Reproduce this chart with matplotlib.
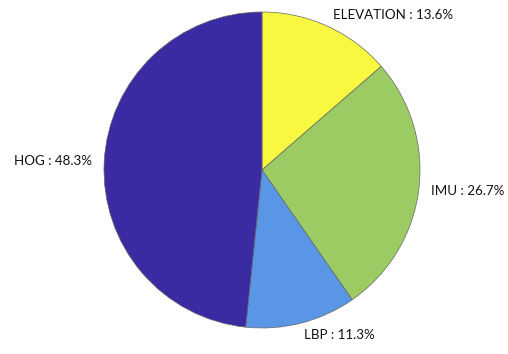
import numpy as np
import matplotlib.pyplot as plt

# Feature share, clockwise from 12 o'clock
features = ["ELEVATION", "IMU", "LBP", "HOG"]
shares = [13.6, 26.7, 11.3, 48.3]
colors = ["#f8f840", "#9bcb62", "#5a96e6", "#3b2ba3"]

plt.rcParams["font.family"] = ["Lato", "DejaVu Sans"]

fig = plt.figure(figsize=(5.08, 3.54), dpi=100)
fig.patch.set_facecolor("white")

# pie radius 1 -> 158 px, centre at (262, 170) px from top-left
ax = fig.add_axes([104 / 508, 26 / 354, 316 / 508, 316 / 354])

wedges, _ = ax.pie(
    shares,
    colors=colors,
    startangle=90,
    counterclock=False,
    wedgeprops=dict(edgecolor="#666666", linewidth=0.5),
)

# labels outside each wedge, at its mid angle
for w, name, val in zip(wedges, features, shares):
    mid = np.deg2rad((w.theta1 + w.theta2) / 2)
    x, y = 1.08 * np.cos(mid), 1.08 * np.sin(mid)
    ax.text(x, y, f"{name} : {val}%", fontsize=9.6, color="#111111",
            ha="left" if x > 0 else "right", va="center")

ax.set_xlim(-1, 1)
ax.set_ylim(-1, 1)
ax.set_aspect("equal")
ax.axis("off")

fig.savefig("out.png", dpi=100, facecolor="white")
